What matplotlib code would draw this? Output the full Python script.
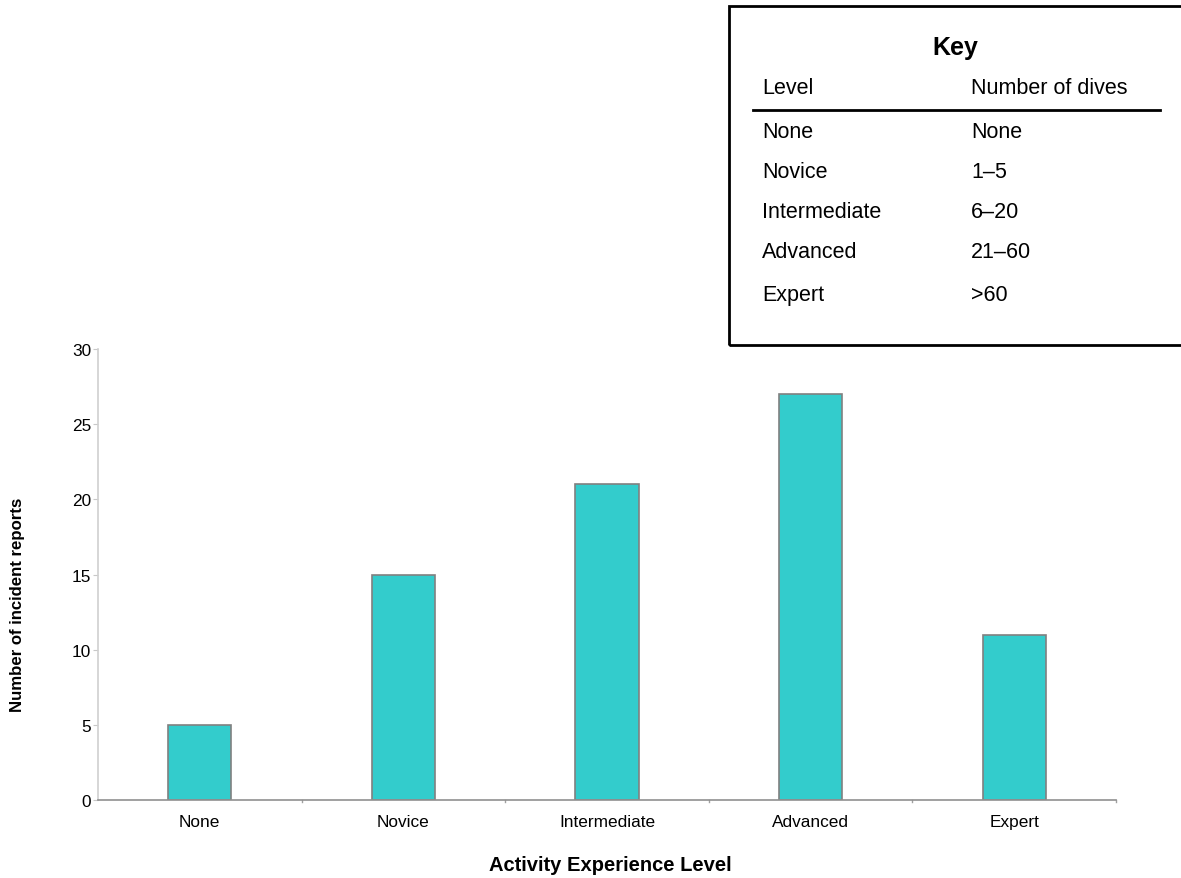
import matplotlib
matplotlib.use('Agg')
import matplotlib.pyplot as plt
from matplotlib.patches import Rectangle
from matplotlib.lines import Line2D

W, H = 1181, 879

levels = ['None', 'Novice', 'Intermediate', 'Advanced', 'Expert']
reports = [5, 15, 21, 27, 11]

key_levels = ['None', 'Novice', 'Intermediate', 'Advanced', 'Expert']
key_dives = ['None', '1\u20135', '6\u201320', '21\u201360', '>60']

BarColor = '#33CCCC'
Sans = ['Liberation Sans', 'DejaVu Sans']
KeySize = 15.5


def fx(x):
    return x / W


def fy(y):
    return 1 - y / H


fig = plt.figure(figsize=(W / 100, H / 100), dpi=100)
ax = fig.add_axes([fx(98), fy(801), (1116 - 98) / W, (801 - 350) / H])

xs = list(range(len(levels)))
ax.bar(xs, reports, width=0.31, color=BarColor, edgecolor='#808080', linewidth=1.2)

ax.set_xlim(-0.5, len(levels) - 0.5)
ax.set_ylim(0, 30)
ax.set_yticks([0, 5, 10, 15, 20, 25, 30])
ax.set_xticks(xs)
ax.set_xticklabels(levels, family=Sans, fontsize=12.4)
for lab in ax.get_yticklabels():
    lab.set_family(Sans)
    lab.set_fontsize(12.4)

# category separators on x axis instead of ticks at centres
ax.tick_params(axis='x', length=0, pad=10)
ax.tick_params(axis='y', length=3.6, color='#c8c8c8', pad=1.5)
for i in range(1, len(levels) + 1):
    ax.plot([i - 0.5, i - 0.5], [0, -0.15], color='#a0a0a0', lw=1, clip_on=False)

for s in ['top', 'right']:
    ax.spines[s].set_visible(False)
ax.spines['left'].set_color('#d0d0d0')
ax.spines['bottom'].set_color('#909090')
ax.spines['left'].set_linewidth(1.2)
ax.spines['bottom'].set_linewidth(1.2)

fig.text(fx(18), fy(605), 'Number of incident reports', rotation=90, ha='center', va='center',
         fontsize=12.1, fontweight='bold', family=Sans)
fig.text(fx(610), fy(866), 'Activity Experience Level', ha='center', va='center',
         fontsize=14.5, fontweight='bold', family=Sans)

# key box
fig.patches.append(Rectangle((fx(729), fy(346)), (1190 - 729) / W, (346 - 7) / H,
                             transform=fig.transFigure, fill=False, edgecolor='black', linewidth=2))
fig.text(fx(955), fy(48), 'Key', ha='center', va='center', fontsize=18, fontweight='bold', family=Sans)
fig.text(fx(762), fy(89), 'Level', ha='left', va='center', fontsize=KeySize, family=Sans)
fig.text(fx(971), fy(89), 'Number of dives', ha='left', va='center', fontsize=KeySize, family=Sans)
fig.lines.append(Line2D([fx(753), fx(1160)], [fy(111), fy(111)], transform=fig.transFigure,
                        color='black', linewidth=2))
row_y = [133, 173, 213, 253, 296]
for ry, lv, dv in zip(row_y, key_levels, key_dives):
    fig.text(fx(762), fy(ry), lv, ha='left', va='center', fontsize=KeySize, family=Sans)
    fig.text(fx(971), fy(ry), dv, ha='left', va='center', fontsize=KeySize, family=Sans)

fig.savefig('out.png', dpi=100)
